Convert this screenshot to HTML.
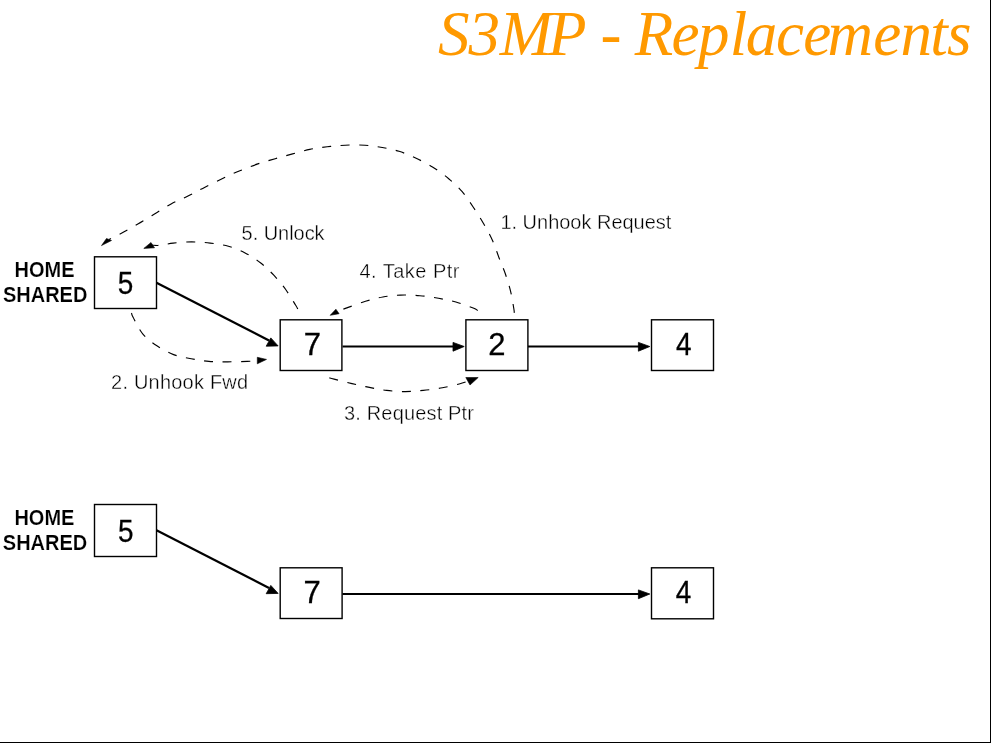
<!DOCTYPE html>
<html><head><meta charset="utf-8"><style>
html,body{margin:0;padding:0;background:#fff;}
body{width:991px;height:743px;position:relative;overflow:hidden;}
#rb{position:absolute;left:990px;top:0;width:1px;height:743px;background:#000;}
#bb{position:absolute;left:0;top:742px;width:991px;height:1px;background:#000;}
svg{position:absolute;left:0;top:0;will-change:transform;}
</style></head><body>

<svg width="991" height="743" viewBox="0 0 991 743">
<path d="M514.3,312.8 C514.2,312.1 514.4,312.1 513.8,308.5 C513.2,304.9 512.0,297.1 510.6,291.3 C509.2,285.6 507.3,279.6 505.4,274.0 C503.5,268.4 501.2,263.6 499.1,258.0 C497.0,252.4 495.1,246.2 492.5,240.5 C489.9,234.8 487.0,229.6 483.8,224.0 C480.6,218.4 476.9,212.6 473.3,207.2 C469.7,201.8 466.3,196.4 462.2,191.7 C458.1,186.9 453.6,182.8 448.7,178.7 C443.8,174.6 438.1,170.4 432.5,166.9 C426.9,163.4 420.7,160.4 415.1,157.8 C409.5,155.2 404.5,153.0 399.0,151.3 C393.5,149.6 388.0,148.5 382.3,147.5 C376.6,146.5 371.2,145.6 365.0,145.2 C358.8,144.8 351.5,144.9 345.2,145.2 C338.9,145.5 333.1,146.1 327.2,146.8 C321.3,147.5 315.6,148.2 309.8,149.4 C304.0,150.6 298.4,152.4 292.6,153.9 C286.8,155.4 281.0,157.0 275.2,158.7 C269.4,160.4 263.6,161.9 257.8,163.9 C252.0,165.9 245.8,168.4 240.5,170.5 C235.2,172.6 232.1,173.9 226.2,176.7 C220.3,179.5 211.4,184.0 205.0,187.2 C198.6,190.4 193.7,193.2 188.0,196.0 C182.3,198.8 176.7,200.9 171.1,203.9 C165.5,206.9 160.0,210.7 154.5,214.0 C149.0,217.3 143.5,220.8 138.3,223.8 C133.1,226.9 128.1,229.7 123.2,232.3 C118.3,234.9 111.4,238.3 109.0,239.5" fill="none" stroke="#000" stroke-width="1.15" stroke-dasharray="9 9.5"/>
<path d="M101.5,245.6 L106.5,238.5 L111.5,240.5 Z" fill="#000" stroke="#000" stroke-width="0.6" stroke-linejoin="round"/>
<path d="M297.8,309.0 C297.4,308.4 297.7,308.6 295.7,305.3 C293.7,302.1 289.3,294.5 285.7,289.5 C282.1,284.5 278.0,279.6 273.8,275.2 C269.6,270.8 265.2,266.5 260.4,262.8 C255.6,259.1 250.4,255.7 245.1,252.9 C239.8,250.2 234.2,247.9 228.4,246.3 C222.6,244.7 216.3,243.8 210.2,243.1 C204.1,242.4 197.8,241.9 191.6,241.9 C185.4,241.9 178.3,242.5 173.1,243.1 C167.9,243.7 163.9,245.0 160.4,245.3 C156.9,245.7 153.4,245.2 152.0,245.2" fill="none" stroke="#000" stroke-width="1.15" stroke-dasharray="9 9.5"/>
<path d="M143.8,248.4 L151.0,242.5 L154.5,247.8 Z" fill="#000" stroke="#000" stroke-width="0.6" stroke-linejoin="round"/>
<path d="M477.8,310.5 C477.0,310.1 476.9,309.4 473.2,308.0 C469.5,306.6 461.7,303.6 455.9,302.0 C450.1,300.4 444.5,299.4 438.5,298.3 C432.5,297.2 426.2,296.2 419.9,295.7 C413.6,295.2 406.7,294.9 400.5,295.1 C394.3,295.3 388.7,296.0 382.9,297.0 C377.1,298.0 371.3,299.6 365.5,301.3 C359.7,303.0 352.9,305.7 348.2,307.4 C343.4,309.1 338.9,310.8 337.0,311.5" fill="none" stroke="#000" stroke-width="1.15" stroke-dasharray="9 9.5"/>
<path d="M330.2,315.3 L335.9,309.2 L339.1,313.7 Z" fill="#000" stroke="#000" stroke-width="0.6" stroke-linejoin="round"/>
<path d="M131.5,313.0 C131.8,313.7 131.2,313.8 133.1,317.3 C135.0,320.8 138.9,329.4 142.9,334.1 C146.9,338.9 151.8,342.4 156.9,345.8 C162.0,349.2 167.9,352.5 173.6,354.6 C179.3,356.8 185.3,357.6 191.2,358.7 C197.1,359.8 202.8,360.9 208.9,361.4 C215.0,361.9 221.3,361.8 227.7,361.8 C234.1,361.8 242.1,361.6 247.2,361.4 C252.2,361.2 256.2,360.7 258.0,360.6" fill="none" stroke="#000" stroke-width="1.15" stroke-dasharray="9 9.5"/>
<path d="M266.5,359.4 L257.3,357.3 L257.3,363.8 Z" fill="#000" stroke="#000" stroke-width="0.6" stroke-linejoin="round"/>
<path d="M329.3,377.9 C330.1,378.1 330.3,378.2 334.1,379.1 C337.9,380.1 346.1,382.2 352.0,383.6 C357.9,385.0 363.6,386.3 369.4,387.4 C375.2,388.5 380.6,389.7 386.6,390.4 C392.6,391.1 399.2,391.6 405.3,391.6 C411.4,391.6 417.0,391.0 423.2,390.4 C429.4,389.8 436.4,388.9 442.4,387.8 C448.4,386.7 454.8,385.1 459.2,384.0 C463.6,382.9 466.9,381.5 468.5,381.0" fill="none" stroke="#000" stroke-width="1.15" stroke-dasharray="9 9.5"/>
<path d="M478.2,377.5 L465.8,377.5 L470.0,385.0 Z" fill="#000" stroke="#000" stroke-width="0.6" stroke-linejoin="round"/>
<path d="M156.5,282.8 L269.0,340.5" stroke="#000" stroke-width="2.2" fill="none"/>
<path d="M278.1,345.9 L266.2,346.2 L270.8,337.9 Z" fill="#000" stroke="#000" stroke-width="0.8" stroke-linejoin="round"/>
<path d="M342.5,346.5 L455.0,346.5" stroke="#000" stroke-width="2.2" fill="none"/>
<path d="M464.2,346.5 L453.0,342.4 L453.0,351.2 Z" fill="#000" stroke="#000" stroke-width="0.8" stroke-linejoin="round"/>
<path d="M528.0,346.5 L640.0,346.5" stroke="#000" stroke-width="2.2" fill="none"/>
<path d="M649.8,346.5 L638.4,342.4 L638.4,351.2 Z" fill="#000" stroke="#000" stroke-width="0.8" stroke-linejoin="round"/>
<path d="M156.5,530.3 L269.0,588.0" stroke="#000" stroke-width="2.2" fill="none"/>
<path d="M278.1,593.4 L266.2,593.7 L270.8,585.4 Z" fill="#000" stroke="#000" stroke-width="0.8" stroke-linejoin="round"/>
<path d="M342.5,594.0 L640.0,594.0" stroke="#000" stroke-width="2.2" fill="none"/>
<path d="M649.8,594.0 L638.4,589.9 L638.4,598.7 Z" fill="#000" stroke="#000" stroke-width="0.8" stroke-linejoin="round"/>
<text y="55.3" x="437.9 468.4 499.7 548.1 586.6 600.4 621.4 634.7 671.6 697.9 729.8 745.8 776.1 803.2 827.4 873.3 900.5 930.2 947.1" font-family="Liberation Serif" font-style="italic" font-size="63" fill="#ff9900" stroke="#fff" stroke-width="0.0">S3MP - Replacements</text>
<rect x="94.5" y="256.8" width="62.0" height="51.7" fill="none" stroke="#000" stroke-width="1.4"/>
<text transform="translate(125.5,294.0) scale(0.9,1)" text-anchor="middle" font-size="31" font-family="Liberation Sans" stroke="#000" stroke-width="0.3">5</text>
<rect x="280.2" y="319.8" width="61.7" height="50.7" fill="none" stroke="#000" stroke-width="1.4"/>
<text transform="translate(312.3,355.0) scale(1.0,1)" text-anchor="middle" font-size="31" font-family="Liberation Sans" stroke="#000" stroke-width="0.3">7</text>
<rect x="465.9" y="319.8" width="62.0" height="50.7" fill="none" stroke="#000" stroke-width="1.4"/>
<text transform="translate(496.9,355.0) scale(1.0,1)" text-anchor="middle" font-size="31" font-family="Liberation Sans" stroke="#000" stroke-width="0.3">2</text>
<rect x="651.5" y="319.8" width="62.0" height="50.7" fill="none" stroke="#000" stroke-width="1.4"/>
<text transform="translate(683.7,355.0) scale(0.9,1)" text-anchor="middle" font-size="31" font-family="Liberation Sans" stroke="#000" stroke-width="0.3">4</text>
<rect x="94.5" y="504.5" width="62.0" height="52.0" fill="none" stroke="#000" stroke-width="1.4"/>
<text transform="translate(125.7,542.0) scale(0.9,1)" text-anchor="middle" font-size="31" font-family="Liberation Sans" stroke="#000" stroke-width="0.3">5</text>
<rect x="280.2" y="567.8" width="61.9" height="50.7" fill="none" stroke="#000" stroke-width="1.4"/>
<text transform="translate(312.2,603.0) scale(1.0,1)" text-anchor="middle" font-size="31" font-family="Liberation Sans" stroke="#000" stroke-width="0.3">7</text>
<rect x="651.5" y="567.8" width="62.0" height="51.0" fill="none" stroke="#000" stroke-width="1.4"/>
<text transform="translate(683.5,603.0) scale(0.9,1)" text-anchor="middle" font-size="31" font-family="Liberation Sans" stroke="#000" stroke-width="0.3">4</text>
<text transform="translate(241.6,240.0) scale(1,1.055)" font-size="20" font-family="Liberation Sans" fill="#000" stroke="#fff" stroke-width="0.35" textLength="83.0" lengthAdjust="spacing">5. Unlock</text>
<text transform="translate(500.4,229.0) scale(1,1.055)" font-size="20" font-family="Liberation Sans" fill="#000" stroke="#fff" stroke-width="0.35" textLength="171.0" lengthAdjust="spacing">1. Unhook Request</text>
<text transform="translate(359.4,278.2) scale(1,1.055)" font-size="20" font-family="Liberation Sans" fill="#000" stroke="#fff" stroke-width="0.35" textLength="100.0" lengthAdjust="spacing">4. Take Ptr</text>
<text transform="translate(111.1,388.9) scale(1,1.055)" font-size="20" font-family="Liberation Sans" fill="#000" stroke="#fff" stroke-width="0.35" textLength="137.0" lengthAdjust="spacing">2. Unhook Fwd</text>
<text transform="translate(344.0,420.0) scale(1,1.055)" font-size="20" font-family="Liberation Sans" fill="#000" stroke="#fff" stroke-width="0.35" textLength="130.0" lengthAdjust="spacing">3. Request Ptr</text>
<text transform="translate(14.6,277.1) scale(1,1.07)" font-size="20" font-weight="bold" font-family="Liberation Sans" stroke="#fff" stroke-width="0.15" textLength="60.0" lengthAdjust="spacing">HOME</text>
<text transform="translate(2.9,302.1) scale(1,1.07)" font-size="20" font-weight="bold" font-family="Liberation Sans" stroke="#fff" stroke-width="0.15" textLength="84.5" lengthAdjust="spacing">SHARED</text>
<text transform="translate(14.4,524.5) scale(1,1.07)" font-size="20" font-weight="bold" font-family="Liberation Sans" stroke="#fff" stroke-width="0.15" textLength="60.0" lengthAdjust="spacing">HOME</text>
<text transform="translate(2.8,549.7) scale(1,1.07)" font-size="20" font-weight="bold" font-family="Liberation Sans" stroke="#fff" stroke-width="0.15" textLength="84.5" lengthAdjust="spacing">SHARED</text>
</svg>
<div id="rb"></div><div id="bb"></div>
</body></html>
